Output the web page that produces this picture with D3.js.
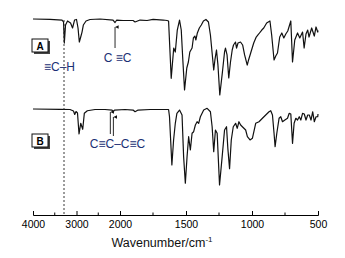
<!DOCTYPE html>
<html>
<head>
<meta charset="utf-8">
<script src="https://cdn.jsdelivr.net/npm/d3@7"></script>
<style>
  body { margin: 0; background: #fff; }
  svg { display: block; font-family: "Liberation Sans", Arial, sans-serif; }
</style>
</head>
<body>
<div id="chart"></div>
<script>
// spectrum A (terminal alkyne), wavenumber / transmittance %
const aWave = [4000,3609,3333,3298,3280,3252,3206,3137,3091,3045,3000,2965,2935,2903,2873,2843,2781,2689,2459,2160,2114,2075,
  1977,1901,1886,1848,1795,1749,1673,1644,1632,1612,1593,1581,1566,1549,1536,1524,1511,1494,1482,1471,1454,1444,1433,1425,
  1414,1399,1384,1368,1349,1330,1315,1290,1281,1269,1258,1244,1224,1208,1201,1189,1176,1163,1150,1140,1125,1117,1106,1087,
  1071,1056,1036,1026,1010,987,968,949,926,911,889,864,851,833,820,807,790,774,759,744,729,706,693,676,655,638,617,605,591,
  578,568,548,528,515,502,500];
const aTrans = [98.7,98.3,97.4,94.9,67.9,91.0,96.2,93.6,87.2,97.4,98.1,87.2,69.2,75.6,82.0,91.0,96.2,98.1,98.7,97.4,94.2,97.4,
  96.8,96.8,94.9,97.4,96.8,98.3,97.4,96.8,96.2,22.7,61.5,56.4,84.6,97.4,84.6,46.2,7.7,35.9,43.6,56.4,61.5,74.4,76.9,71.8,
  80.8,87.2,91.0,96.2,98.1,94.9,78.2,33.3,46.2,59.0,39.7,1.3,30.8,56.4,61.5,52.6,23.1,43.6,59.0,65.4,69.2,61.5,67.9,69.2,
  65.4,52.6,39.7,46.2,55.1,67.9,75.6,79.5,84.6,87.2,93.6,96.2,78.2,46.2,51.3,55.1,75.6,80.8,74.4,79.5,83.3,96.2,43.6,71.8,
  80.8,74.4,82.0,61.5,79.5,84.6,75.6,87.2,76.9,88.5,82.0,84.0];

// spectrum B (diacetylene)
const bWave = [4000,3379,3149,3069,3041,3011,2977,2942,2903,2857,2820,2751,2574,2344,2183,2153,2126,1962,1901,1886,1863,1772,
  1632,1625,1607,1594,1581,1569,1549,1530,1518,1505,1492,1480,1467,1454,1442,1429,1416,1404,1391,1366,1340,1315,1302,1290,
  1277,1264,1246,1226,1208,1193,1183,1170,1157,1142,1124,1112,1099,1086,1073,1048,1035,1015,997,972,947,921,896,871,858,
  845,833,825,812,795,782,769,751,731,718,706,693,681,668,655,642,630,617,604,591,578,566,553,540,528,515,502,500];
const bTrans = [98.7,98.3,98.1,96.2,91.7,95.5,93.6,66.7,80.4,72.7,93.2,96.5,98.1,98.1,97.4,95.2,97.4,98.1,97.4,95.2,97.4,98.1,
  98.1,88.8,26.9,59.0,80.4,93.2,97.4,91.0,37.6,3.5,37.6,63.2,46.2,67.6,69.6,78.2,82.4,80.4,88.8,97.4,99.6,95.2,76.0,44.0,
  71.8,67.6,1.3,37.6,71.8,76.0,48.3,22.3,59.0,76.0,80.4,74.0,82.4,78.2,76.0,71.8,63.2,59.0,61.2,80.4,82.4,86.8,91.0,95.2,96.5,
  91.0,67.6,50.4,67.6,86.8,88.8,82.4,84.6,86.8,93.2,92.3,54.7,80.4,86.8,84.6,88.8,84.6,93.2,92.3,84.6,91.0,91.0,84.6,95.2,82.4,
  88.8,88.8,92.3];

const majorTicks = [4000,3000,2000,1500,1000,500];
const minorTicks = [3500,2500,1750,1250,750];
const chMark = 3287;          // dashed guide, ≡C–H stretch
const aArrow = [2114];
const bArrows = [2222,2152];

const width = 345, height = 258;
const svg = d3.select('#chart').append('svg').attr('width', width).attr('height', height);

// broken x axis: 4000-2000 compressed
const x = d3.scaleLinear().domain([4000,2000,500]).range([33,120,318]);
const yA = d3.scaleLinear().domain([0,100]).range([96,18]);
const yB = d3.scaleLinear().domain([0,100]).range([186,108]);
const axisY = 215;

const lineA = d3.line().x(d => x(d[0])).y(d => yA(d[1]));
const lineB = d3.line().x(d => x(d[0])).y(d => yB(d[1]));

svg.append('path').datum(d3.zip(aWave, aTrans)).attr('d', lineA)
  .attr('fill','none').attr('stroke','#111').attr('stroke-width',1.2).attr('stroke-linejoin','round');
svg.append('path').datum(d3.zip(bWave, bTrans)).attr('d', lineB)
  .attr('fill','none').attr('stroke','#111').attr('stroke-width',1.2).attr('stroke-linejoin','round');

// dashed guide
svg.append('line').attr('x1', x(chMark)).attr('x2', x(chMark)).attr('y1', 20).attr('y2', axisY)
  .attr('stroke','#222').attr('stroke-width',0.9).attr('stroke-dasharray','2,2');

// axis
const gx = svg.append('g').attr('transform', `translate(0,${axisY})`);
gx.call(d3.axisBottom(x).tickValues(majorTicks).tickSize(-4).tickFormat(d3.format('d')));
gx.select('.domain').attr('stroke','#000');
gx.selectAll('.tick line').attr('stroke','#000');
gx.selectAll('.tick text').attr('y', 6).attr('dy','0.71em')
  .style('font-size','10.5px').style('font-family','"Liberation Sans", Arial, sans-serif').attr('fill','#000');
gx.selectAll('.minor').data(minorTicks).enter().append('line')
  .attr('x1', d => x(d)).attr('x2', d => x(d)).attr('y1', 0).attr('y2', -2.5).attr('stroke','#000');

const title = svg.append('text').attr('x', 162).attr('y', 247).attr('text-anchor','middle')
  .style('font-size','12.5px').attr('fill','#111');
title.append('tspan').text('Wavenumber/cm');
title.append('tspan').attr('dy', -5).style('font-size','8px').text('-1');

// panel labels
function panelBox(label, bx, by) {
  svg.append('rect').attr('x', bx+2).attr('y', by+2).attr('width', 16).attr('height', 13).attr('fill','#444');
  svg.append('rect').attr('x', bx).attr('y', by).attr('width', 16).attr('height', 13)
    .attr('fill','#fff').attr('stroke','#111').attr('stroke-width',1);
  svg.append('text').attr('x', bx+8).attr('y', by+10.5).attr('text-anchor','middle')
    .style('font-size','10px').style('font-weight','bold').text(label);
}
panelBox('A', 32, 39);
panelBox('B', 32, 134);

// arrows
const defs = svg.append('defs');
defs.append('marker').attr('id','ah').attr('viewBox','0 0 6 6').attr('refX',3).attr('refY',0)
  .attr('markerWidth',4).attr('markerHeight',5).attr('orient','auto-start-reverse')
  .append('path').attr('d','M0,6 L3,0 L6,6 Z').attr('fill','#111');

function arrow(xp, yTop, yBot) {
  svg.append('line').attr('x1', xp).attr('x2', xp).attr('y1', yBot).attr('y2', yTop)
    .attr('stroke','#111').attr('stroke-width',0.9).attr('marker-end','url(#ah)');
}
arrow(x(aArrow[0]), 27, 48);
arrow(x(bArrows[0]), 112, 134);
arrow(x(bArrows[1]), 117, 136);

const annColor = '#1a3075';
svg.append('text').attr('x', 44).attr('y', 71).style('font-size','12px').attr('fill', annColor).text('≡C–H');
svg.append('text').attr('x', 117.5).attr('y', 62).attr('text-anchor','middle')
  .style('font-size','12px').attr('fill', annColor).text('C ≡C');
svg.append('text').attr('x', 117.5).attr('y', 148).attr('text-anchor','middle')
  .style('font-size','12px').attr('fill', annColor).text('C≡C–C≡C');
</script>
</body>
</html>
